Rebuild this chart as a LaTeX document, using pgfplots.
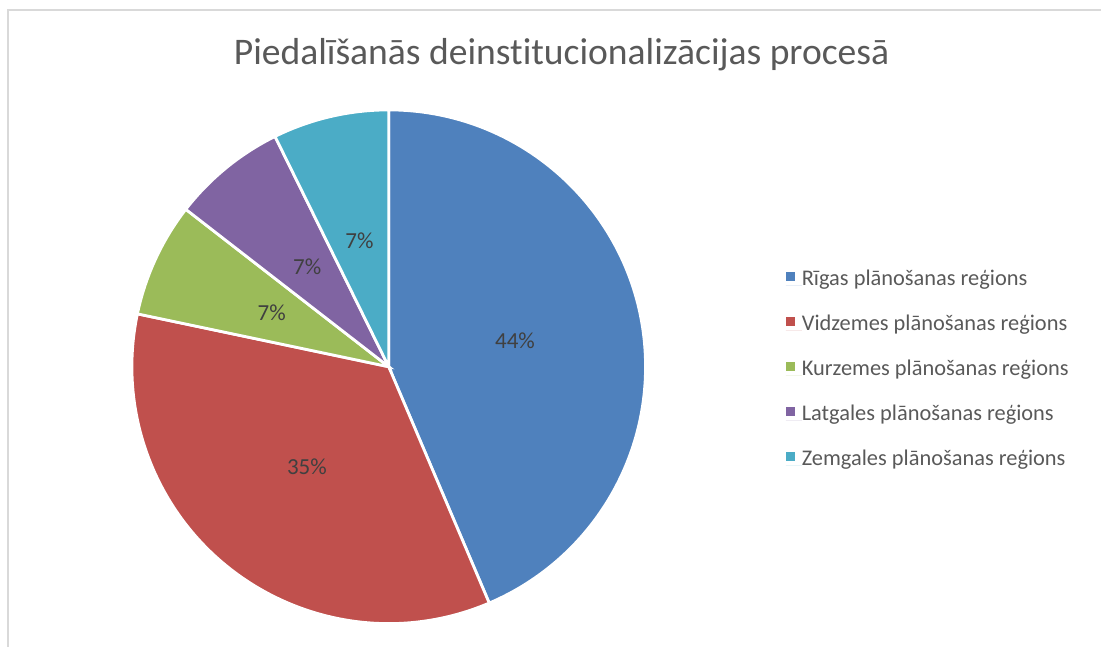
\documentclass[border=0pt]{standalone}
\usepackage{pgfplots}
\pgfplotsset{compat=1.18}
\usepackage{pgfplotstable}
\usepackage{fontspec}
\setmainfont{Carlito}[Ligatures=NoCommon]
\definecolor{cA}{HTML}{4F81BD}
\definecolor{cB}{HTML}{C0504D}
\definecolor{cC}{HTML}{9BBB59}
\definecolor{cD}{HTML}{8064A2}
\definecolor{cE}{HTML}{4BACC6}
\definecolor{txt}{HTML}{595959}
\definecolor{lbl}{HTML}{404040}
\definecolor{frame}{HTML}{D9D9D9}
\pgfplotstableread{
value label
43.6 44
34.7 35
7.2 7
7.2 7
7.3 7
}\piedata
\newcommand\getval[2]{\pgfplotstablegetelem{#1}{value}\of\piedata\let#2\pgfplotsretval}%
\getval{0}\vA\getval{1}\vB\getval{2}\vC\getval{3}\vD\getval{4}\vE%
\pgfmathsetmacro\aA{90}%
\pgfmathsetmacro\aB{\aA-3.6*\vA}%
\pgfmathsetmacro\aC{\aB-3.6*\vB}%
\pgfmathsetmacro\aD{\aC-3.6*\vC}%
\pgfmathsetmacro\aE{\aD-3.6*\vD}%
\pgfmathsetmacro\aF{\aE-3.6*\vE}%
\pgfmathsetmacro\mA{(\aA+\aB)/2}%
\pgfmathsetmacro\mB{(\aB+\aC)/2}%
\pgfmathsetmacro\mC{(\aC+\aD)/2}%
\pgfmathsetmacro\mD{(\aD+\aE)/2}%
\pgfmathsetmacro\mE{(\aE+\aF)/2}%
\def\R{128.5pt}%
\def\Rl{64.5pt}%
\pgfplotsset{sq legend/.style={legend image code/.code={\fill[##1] (0pt,1.9pt) rectangle (4.5pt,6.4pt); \path (0pt,0pt) -- (8pt,0pt);}}}
\begin{document}
\begin{tikzpicture}
\begin{axis}[
  x=0.5pt, y=0.5pt,
  xmin=0, xmax=1102, ymin=0, ymax=647,
  y dir=reverse,
  hide axis, clip=false,
  legend style={draw=none, fill=none, at={(axis cs:786,269)}, anchor=north west,
    inner sep=0pt, row sep=11.5pt, column sep=0pt,
    font=\fontsize{11.2}{13}\selectfont, text=txt,
    nodes={inner sep=0pt, text height=8pt, text depth=3pt, anchor=base west}},
  legend cell align=left,
]
\path (axis cs:0,0) rectangle (axis cs:1102,647);
\draw[frame, line width=0.8pt] (axis cs:8,647) -- (axis cs:8,10) -- (axis cs:1102,10);
\node[text=txt, font=\fontsize{18.8}{22}\selectfont, anchor=base] at (axis cs:562,65) {Piedalīšanās deinstitucionalizācijas procesā};
\filldraw[fill=cA, draw=white, line width=1.4pt] (axis cs:389,367) -- ++(\aA:\R) arc[start angle=\aA, end angle=\aB, radius=\R] -- cycle;
\filldraw[fill=cB, draw=white, line width=1.4pt] (axis cs:389,367) -- ++(\aB:\R) arc[start angle=\aB, end angle=\aC, radius=\R] -- cycle;
\filldraw[fill=cC, draw=white, line width=1.4pt] (axis cs:389,367) -- ++(\aC:\R) arc[start angle=\aC, end angle=\aD, radius=\R] -- cycle;
\filldraw[fill=cD, draw=white, line width=1.4pt] (axis cs:389,367) -- ++(\aD:\R) arc[start angle=\aD, end angle=\aE, radius=\R] -- cycle;
\filldraw[fill=cE, draw=white, line width=1.4pt] (axis cs:389,367) -- ++(\aE:\R) arc[start angle=\aE, end angle=\aF, radius=\R] -- cycle;
\path[font=\fontsize{11.5}{13}\selectfont, text=lbl] (axis cs:389,367) ++(\mA:\Rl) node {44\%};
\path[font=\fontsize{11.5}{13}\selectfont, text=lbl] (axis cs:389,367) ++(\mB:\Rl) node {35\%};
\path[font=\fontsize{11.5}{13}\selectfont, text=lbl] (axis cs:389,367) ++(\mC:\Rl) node {7\%};
\path[font=\fontsize{11.5}{13}\selectfont, text=lbl] (axis cs:389,367) ++(\mD:\Rl) node {7\%};
\path[font=\fontsize{11.5}{13}\selectfont, text=lbl] (axis cs:389,367) ++(\mE:\Rl) node {7\%};
\addlegendimage{sq legend, fill=cA, draw=none}
\addlegendentry{Rīgas plānošanas reģions}
\addlegendimage{sq legend, fill=cB, draw=none}
\addlegendentry{Vidzemes plānošanas reģions}
\addlegendimage{sq legend, fill=cC, draw=none}
\addlegendentry{Kurzemes plānošanas reģions}
\addlegendimage{sq legend, fill=cD, draw=none}
\addlegendentry{Latgales plānošanas reģions}
\addlegendimage{sq legend, fill=cE, draw=none}
\addlegendentry{Zemgales plānošanas reģions}
\end{axis}
\end{tikzpicture}
\end{document}
